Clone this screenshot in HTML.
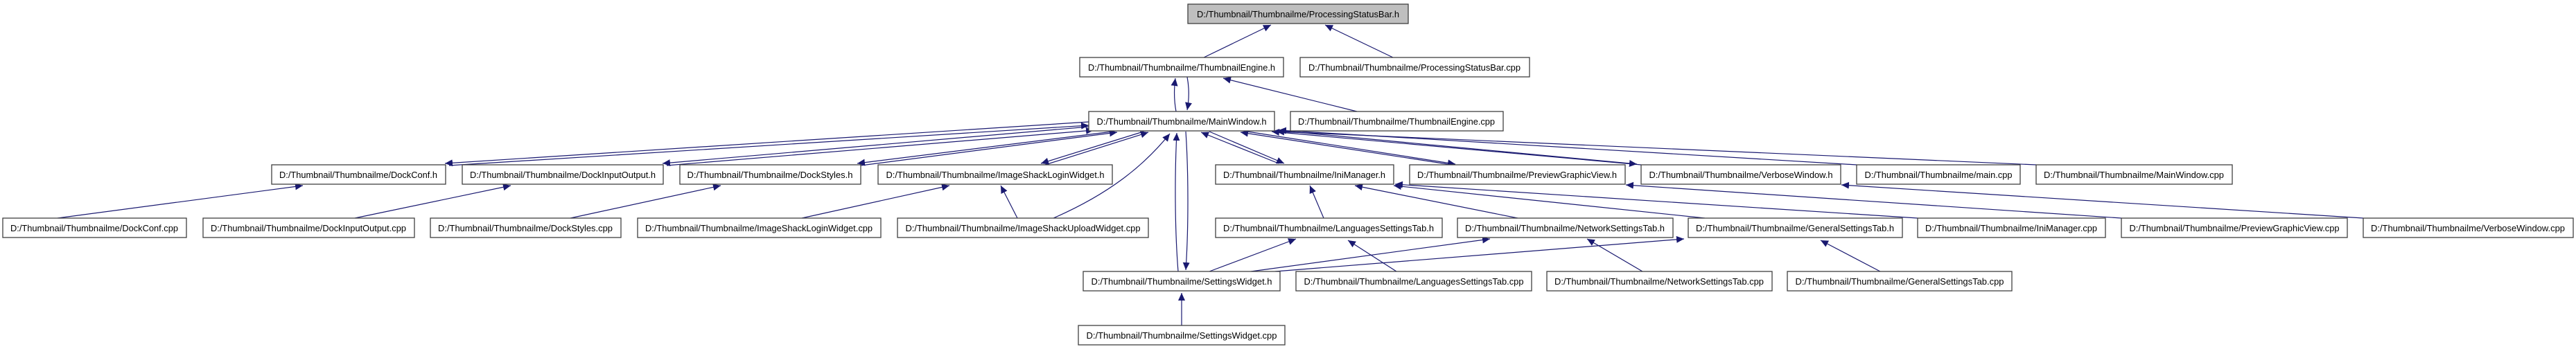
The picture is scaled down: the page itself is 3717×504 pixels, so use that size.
<!DOCTYPE html>
<html><head><meta charset="utf-8"><style>
html,body{margin:0;padding:0;background:#fff;}
svg{display:block;}
text{font-family:"Liberation Sans",Arial,sans-serif;font-size:13px;fill:#000;}
</style></head><body>
<svg width="3717" height="504" viewBox="0 0 3717 504" xmlns="http://www.w3.org/2000/svg">
<defs>
<marker id="a" markerUnits="userSpaceOnUse" markerWidth="12" markerHeight="10" refX="11" refY="5" orient="auto">
<path d="M0,0 L11,5 L0,10 z" fill="#191970"/>
</marker>
</defs>
<g fill="none" stroke="#191970" stroke-width="1.2" marker-end="url(#a)">
<line x1="1737" y1="83" x2="1834" y2="36"/>
<line x1="2010" y1="83" x2="1912" y2="36"/>
<path d="M1697,161 C1694,145 1694,128 1696,113"/>
<path d="M1713,111 C1716,127 1716,143 1713,159"/>
<line x1="1958" y1="161" x2="1765" y2="113"/>
<line x1="1571" y1="176" x2="642" y2="236"/>
<line x1="648" y1="239" x2="1571" y2="181"/>
<line x1="1571" y1="183" x2="956" y2="236"/>
<line x1="962" y1="239" x2="1578" y2="188"/>
<line x1="1605" y1="190" x2="1237" y2="236"/>
<line x1="1242" y1="239" x2="1612" y2="191"/>
<line x1="1650" y1="190" x2="1502" y2="236"/>
<line x1="1508" y1="238" x2="1657" y2="191"/>
<line x1="1468" y1="315" x2="1444" y2="268"/>
<path d="M1520,315 C1600,280 1650,240 1688,193"/>
<line x1="83" y1="315" x2="437" y2="268"/>
<line x1="512" y1="315" x2="737" y2="268"/>
<line x1="823" y1="315" x2="1040" y2="268"/>
<line x1="1157" y1="315" x2="1370" y2="268"/>
<path d="M1700,392 C1695,330 1695,250 1698,192"/>
<path d="M1711,190 C1715,250 1715,330 1711,390"/>
<line x1="1845" y1="236" x2="1733" y2="191"/>
<line x1="1745" y1="190" x2="1853" y2="236"/>
<line x1="2095" y1="238" x2="1790" y2="191"/>
<line x1="1800" y1="190" x2="2100" y2="237"/>
<line x1="2368" y1="238" x2="1835" y2="190"/>
<line x1="1850" y1="189" x2="2362" y2="237"/>
<line x1="2679" y1="238" x2="1845" y2="188"/>
<line x1="2938" y1="238" x2="1842" y2="190"/>
<line x1="1910" y1="315" x2="1890" y2="268"/>
<line x1="2190" y1="315" x2="1955" y2="268"/>
<line x1="2460" y1="315" x2="2011" y2="268"/>
<line x1="2767" y1="315" x2="2013" y2="266"/>
<line x1="3061" y1="315" x2="2346" y2="267"/>
<line x1="3410" y1="315" x2="2657" y2="267"/>
<line x1="1745" y1="392" x2="1870" y2="345"/>
<line x1="1805" y1="392" x2="2150" y2="345"/>
<line x1="1840" y1="392" x2="2430" y2="345"/>
<line x1="2015" y1="392" x2="1945" y2="347"/>
<line x1="2370" y1="392" x2="2290" y2="345"/>
<line x1="2713" y1="392" x2="2627" y2="347"/>
<line x1="1705" y1="470" x2="1705" y2="423"/>
</g>
<g stroke="#404040" stroke-width="1.3" fill="#fff">
<rect x="1714" y="6" width="318" height="28" fill="#bfbfbf"/>
<rect x="1558" y="83" width="294" height="28"/>
<rect x="1876" y="83" width="331" height="28"/>
<rect x="1571" y="161" width="268" height="28"/>
<rect x="1862" y="161" width="307" height="28"/>
<rect x="392" y="238" width="251" height="28"/>
<rect x="667" y="238" width="290" height="28"/>
<rect x="981" y="238" width="261" height="28"/>
<rect x="1267" y="238" width="338" height="28"/>
<rect x="1754" y="238" width="257" height="28"/>
<rect x="2034" y="238" width="311" height="28"/>
<rect x="2368" y="238" width="288" height="28"/>
<rect x="2679" y="238" width="236" height="28"/>
<rect x="2938" y="238" width="283" height="28"/>
<rect x="4" y="315" width="265" height="28"/>
<rect x="293" y="315" width="305" height="28"/>
<rect x="621" y="315" width="275" height="28"/>
<rect x="920" y="315" width="351" height="28"/>
<rect x="1295" y="315" width="362" height="28"/>
<rect x="1754" y="315" width="327" height="28"/>
<rect x="2103" y="315" width="311" height="28"/>
<rect x="2436" y="315" width="309" height="28"/>
<rect x="2767" y="315" width="271" height="28"/>
<rect x="3061" y="315" width="326" height="28"/>
<rect x="3410" y="315" width="303" height="28"/>
<rect x="1563" y="392" width="284" height="28"/>
<rect x="1870" y="392" width="340" height="28"/>
<rect x="2232" y="392" width="325" height="28"/>
<rect x="2579" y="392" width="324" height="28"/>
<rect x="1556" y="470" width="298" height="28"/>
</g>
<g text-anchor="middle" lengthAdjust="spacingAndGlyphs">
<text x="1873" y="25" textLength="292" lengthAdjust="spacingAndGlyphs">D:/Thumbnail/Thumbnailme/ProcessingStatusBar.h</text>
<text x="1705" y="102" textLength="270" lengthAdjust="spacingAndGlyphs">D:/Thumbnail/Thumbnailme/ThumbnailEngine.h</text>
<text x="2041" y="102" textLength="306" lengthAdjust="spacingAndGlyphs">D:/Thumbnail/Thumbnailme/ProcessingStatusBar.cpp</text>
<text x="1705" y="180" textLength="245" lengthAdjust="spacingAndGlyphs">D:/Thumbnail/Thumbnailme/MainWindow.h</text>
<text x="2015" y="180" textLength="284" lengthAdjust="spacingAndGlyphs">D:/Thumbnail/Thumbnailme/ThumbnailEngine.cpp</text>
<text x="517" y="257" textLength="228" lengthAdjust="spacingAndGlyphs">D:/Thumbnail/Thumbnailme/DockConf.h</text>
<text x="812" y="257" textLength="268" lengthAdjust="spacingAndGlyphs">D:/Thumbnail/Thumbnailme/DockInputOutput.h</text>
<text x="1111" y="257" textLength="239" lengthAdjust="spacingAndGlyphs">D:/Thumbnail/Thumbnailme/DockStyles.h</text>
<text x="1436" y="257" textLength="315" lengthAdjust="spacingAndGlyphs">D:/Thumbnail/Thumbnailme/ImageShackLoginWidget.h</text>
<text x="1882" y="257" textLength="234" lengthAdjust="spacingAndGlyphs">D:/Thumbnail/Thumbnailme/IniManager.h</text>
<text x="2189" y="257" textLength="288" lengthAdjust="spacingAndGlyphs">D:/Thumbnail/Thumbnailme/PreviewGraphicView.h</text>
<text x="2512" y="257" textLength="265" lengthAdjust="spacingAndGlyphs">D:/Thumbnail/Thumbnailme/VerboseWindow.h</text>
<text x="2797" y="257" textLength="213" lengthAdjust="spacingAndGlyphs">D:/Thumbnail/Thumbnailme/main.cpp</text>
<text x="3079" y="257" textLength="260" lengthAdjust="spacingAndGlyphs">D:/Thumbnail/Thumbnailme/MainWindow.cpp</text>
<text x="136" y="334" textLength="242" lengthAdjust="spacingAndGlyphs">D:/Thumbnail/Thumbnailme/DockConf.cpp</text>
<text x="445" y="334" textLength="282" lengthAdjust="spacingAndGlyphs">D:/Thumbnail/Thumbnailme/DockInputOutput.cpp</text>
<text x="758" y="334" textLength="252" lengthAdjust="spacingAndGlyphs">D:/Thumbnail/Thumbnailme/DockStyles.cpp</text>
<text x="1095" y="334" textLength="328" lengthAdjust="spacingAndGlyphs">D:/Thumbnail/Thumbnailme/ImageShackLoginWidget.cpp</text>
<text x="1476" y="334" textLength="339" lengthAdjust="spacingAndGlyphs">D:/Thumbnail/Thumbnailme/ImageShackUploadWidget.cpp</text>
<text x="1917" y="334" textLength="304" lengthAdjust="spacingAndGlyphs">D:/Thumbnail/Thumbnailme/LanguagesSettingsTab.h</text>
<text x="2258" y="334" textLength="288" lengthAdjust="spacingAndGlyphs">D:/Thumbnail/Thumbnailme/NetworkSettingsTab.h</text>
<text x="2590" y="334" textLength="286" lengthAdjust="spacingAndGlyphs">D:/Thumbnail/Thumbnailme/GeneralSettingsTab.h</text>
<text x="2902" y="334" textLength="248" lengthAdjust="spacingAndGlyphs">D:/Thumbnail/Thumbnailme/IniManager.cpp</text>
<text x="3224" y="334" textLength="303" lengthAdjust="spacingAndGlyphs">D:/Thumbnail/Thumbnailme/PreviewGraphicView.cpp</text>
<text x="3561" y="334" textLength="280" lengthAdjust="spacingAndGlyphs">D:/Thumbnail/Thumbnailme/VerboseWindow.cpp</text>
<text x="1705" y="411" textLength="261" lengthAdjust="spacingAndGlyphs">D:/Thumbnail/Thumbnailme/SettingsWidget.h</text>
<text x="2040" y="411" textLength="317" lengthAdjust="spacingAndGlyphs">D:/Thumbnail/Thumbnailme/LanguagesSettingsTab.cpp</text>
<text x="2394" y="411" textLength="302" lengthAdjust="spacingAndGlyphs">D:/Thumbnail/Thumbnailme/NetworkSettingsTab.cpp</text>
<text x="2741" y="411" textLength="301" lengthAdjust="spacingAndGlyphs">D:/Thumbnail/Thumbnailme/GeneralSettingsTab.cpp</text>
<text x="1705" y="489" textLength="275" lengthAdjust="spacingAndGlyphs">D:/Thumbnail/Thumbnailme/SettingsWidget.cpp</text>
</g>
</svg>
</body></html>
